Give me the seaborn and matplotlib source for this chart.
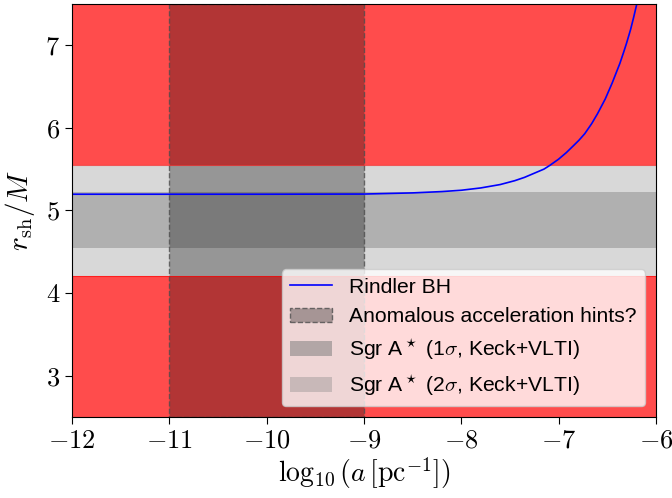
import numpy as np
import pandas as pd
import seaborn as sns
import matplotlib.pyplot as plt
from matplotlib.patches import Patch
from matplotlib.lines import Line2D

# Rindler BH shadow radius
log_a = [-12.0, -10.0, -9.0, -8.5, -8.2, -8.0, -7.8, -7.6, -7.45, -7.35, -7.25,
         -7.15, -7.09, -7.0, -6.92, -6.85, -6.79, -6.73, -6.66, -6.6, -6.52,
         -6.45, -6.41, -6.37, -6.33, -6.3, -6.26, -6.23, -6.196]
r_sh = [5.196, 5.196, 5.198, 5.212, 5.228, 5.244, 5.272, 5.313, 5.36, 5.40, 5.45,
        5.50, 5.545, 5.62, 5.70, 5.78, 5.85, 5.93, 6.05, 6.17, 6.35,
        6.54, 6.66, 6.78, 6.92, 7.03, 7.19, 7.33, 7.50]

# bands
anom_range = [-11, -9]
sgr_1sigma = [4.55, 5.22]
sgr_2sigma = [4.20, 5.55]

xticks = [-12, -11, -10, -9, -8, -7, -6]
yticks = [3, 4, 5, 6, 7]


def main():
    plt.rcParams['mathtext.fontset'] = 'cm'
    plt.rcParams['font.family'] = ['Liberation Sans', 'DejaVu Sans']

    fig = plt.figure(figsize=(6.72, 4.98), dpi=100)
    ax = fig.add_axes([0.107, 0.163, 0.869, 0.829])

    df = pd.DataFrame({'x': log_a, 'y': r_sh})

    # excluded regions
    ax.axhspan(sgr_2sigma[1], 7.5, color='red', alpha=0.7, lw=0)
    ax.axhspan(2.5, sgr_2sigma[0], color='red', alpha=0.7, lw=0)
    ax.axhline(sgr_2sigma[1], color='red', lw=0.8, alpha=0.6)
    ax.axhline(sgr_2sigma[0], color='red', lw=0.8, alpha=0.6)

    # Sgr A* bands
    ax.axhspan(sgr_2sigma[0], sgr_2sigma[1], color='gray', alpha=0.3, lw=0)
    ax.axhspan(sgr_1sigma[0], sgr_1sigma[1], color='gray', alpha=0.45, lw=0)

    # anomalous acceleration band
    ax.axvspan(anom_range[0], anom_range[1], facecolor=(0, 0, 0, 0.3),
               edgecolor=(0.3, 0.3, 0.3, 0.8), ls='--', lw=1.0)

    sns.lineplot(data=df, x='x', y='y', ax=ax, color='blue', lw=1.2,
                 estimator=None, sort=False)

    ax.set_xlim(-12, -6)
    ax.set_ylim(2.5, 7.5)
    ax.set_xticks(xticks)
    ax.set_xticklabels([f'${v}$' for v in xticks], fontsize=19)
    ax.set_yticks(yticks)
    ax.set_yticklabels([f'${v}$' for v in yticks], fontsize=19)
    ax.tick_params(direction='out', length=5)
    ax.set_xlabel(r'$\log_{10}(a\,[{\rm pc}^{-1}])$', fontsize=20, labelpad=2)
    ax.set_ylabel(r'$r_{\rm sh}/M$', fontsize=21, labelpad=6)

    handles = [
        Line2D([], [], color='blue', lw=1.2),
        Patch(facecolor=(0, 0, 0, 0.3), edgecolor=(0.3, 0.3, 0.3, 0.8), ls='--'),
        Patch(facecolor='gray', alpha=0.55, lw=0),
        Patch(facecolor='gray', alpha=0.35, lw=0),
    ]
    labels = ['Rindler BH', 'Anomalous acceleration hints?',
              r'Sgr A$^\star$ (1$\sigma$, Keck+VLTI)',
              r'Sgr A$^\star$ (2$\sigma$, Keck+VLTI)']
    ax.legend(handles, labels, loc='lower right', fontsize=15.2)

    fig.savefig('out.png', dpi=100)


if __name__ == "__main__":
    main()
